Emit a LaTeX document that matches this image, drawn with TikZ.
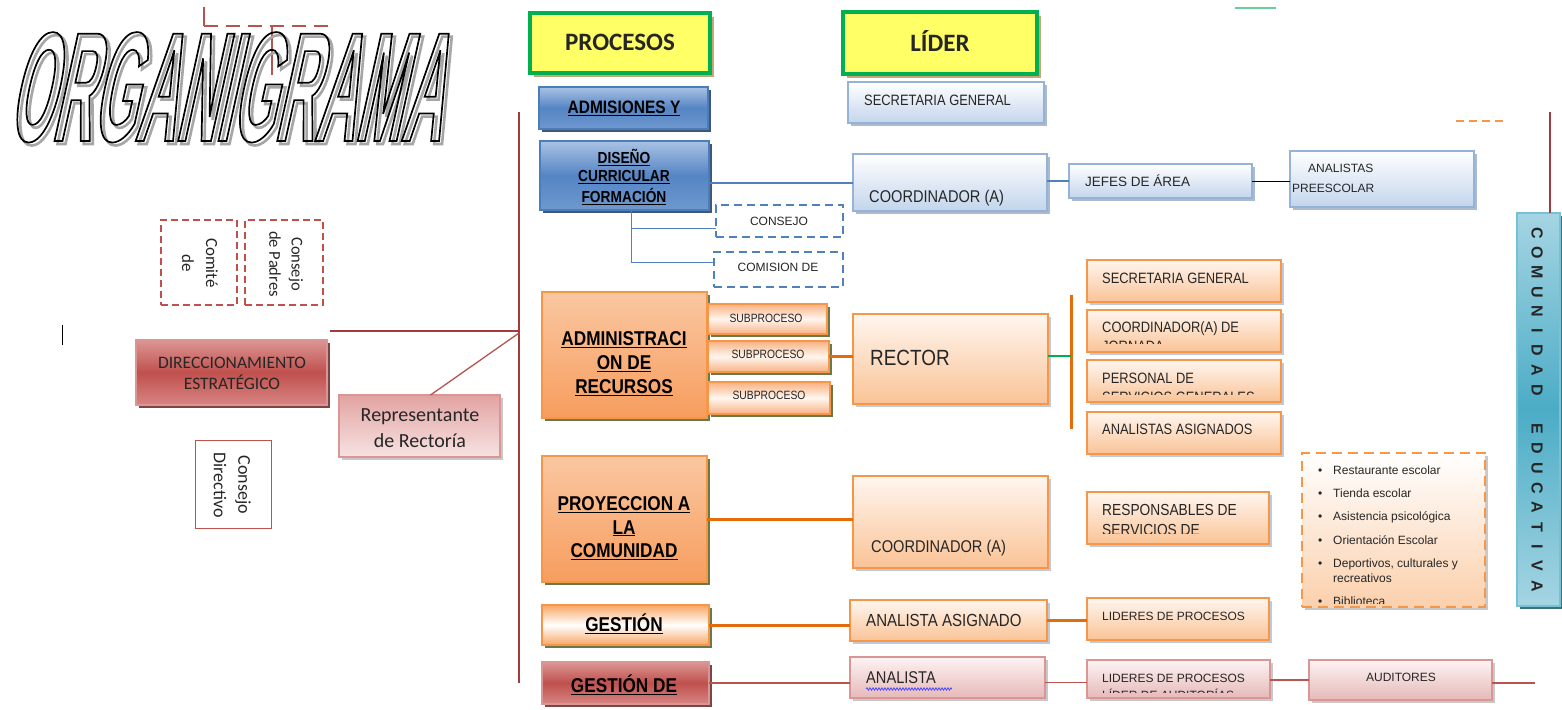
\documentclass[tikz,border=0pt]{standalone}
\usepackage{fontspec}
\setmainfont{Liberation Sans}
\newfontfamily\narfont[FakeStretch=0.86]{Liberation Sans}
\newfontfamily\calfont{Carlito}
\newfontfamily\titlefont[FakeStretch=0.357,FakeSlant=0.22]{Liberation Sans}
\usetikzlibrary{shadows,decorations.pathmorphing}

\definecolor{hdrY}{HTML}{FFFF66}
\definecolor{hdrG}{HTML}{00B050}
\definecolor{hdrS}{HTML}{C49A6C}
\definecolor{pbD}{HTML}{4A7EBB}
\definecolor{pbT}{HTML}{A9C2E4}
\definecolor{pbM}{HTML}{5585C4}
\definecolor{pbB}{HTML}{6E98CF}
\definecolor{pbS}{HTML}{1F3A60}
\definecolor{lbD}{HTML}{95B3D7}
\definecolor{lbB}{HTML}{C3D5EC}
\definecolor{lbS}{HTML}{9EAFC5}
\definecolor{orD}{HTML}{F79646}
\definecolor{orT}{HTML}{FAC7A1}
\definecolor{orB}{HTML}{F79D5E}
\definecolor{orS}{HTML}{4F6228}
\definecolor{orW}{HTML}{F8A766}
\definecolor{loT}{HTML}{FFF6EF}
\definecolor{loB}{HTML}{FAC396}
\definecolor{loS}{HTML}{B3C0D3}
\definecolor{soE}{HTML}{F8B282}
\definecolor{rdD}{HTML}{D99694}
\definecolor{rdT}{HTML}{DB9694}
\definecolor{rdM}{HTML}{C0504D}
\definecolor{rdB}{HTML}{D78583}
\definecolor{rdS}{HTML}{632523}
\definecolor{pkT}{HTML}{FDF3F3}
\definecolor{pkB}{HTML}{E6B9B8}
\definecolor{pkS}{HTML}{BFBFBF}
\definecolor{rpT}{HTML}{E2A3A2}
\definecolor{rpB}{HTML}{F6E3E2}
\definecolor{tlD}{HTML}{78C0D4}
\definecolor{tlT}{HTML}{A5D5E3}
\definecolor{tlM}{HTML}{4BACC6}
\definecolor{tlS}{HTML}{205867}
\definecolor{lnR}{HTML}{A23B3B}
\definecolor{lnRt}{HTML}{B85450}
\definecolor{lnO}{HTML}{E46C0A}
\definecolor{lnB}{HTML}{4F81BD}
\definecolor{lnG}{HTML}{00B050}
\definecolor{dkR}{HTML}{C0504D}
\definecolor{txt}{HTML}{262626}
\definecolor{lsB}{HTML}{FBD0AC}

\newcommand\bx[6]{\node[box,#1,minimum width={(#5-#3)*1pt},minimum height={(#6-#4)*1pt}] (#2) at ({(#3+#5)/2},{(#4+#6)/2}) {};}
% left text: name, font, size, x, cap-center y, text
\newcommand\ltxt[6]{\node[anchor=base west,inner sep=0pt,text=txt,font={#2\fontsize{#3}{#3}\selectfont}] (#1) at (#4,{#5+0.358*#3}) {#6};}
\newcommand\ctxt[6]{\node[anchor=base,inner sep=0pt,text=txt,font={#2\fontsize{#3}{#3}\selectfont}] (#1) at (#4,{#5+0.358*#3}) {#6};}
\newcommand\ptxt[4]{\node[anchor=base,inner sep=0pt,text=black,font={\narfont\bfseries\fontsize{#2}{#2}\selectfont}] (#1) at (624,{#3+0.358*#2}) {\underline{#4}};}
\newcommand\outlined[2]{\special{pdf:literal direct 1 Tr #1 w}#2\special{pdf:literal direct 0 Tr}}

\tikzset{
  box/.style={inner sep=0pt, outer sep=0pt, line width=1.1pt},
  shad/.style={drop shadow={shadow xshift=3pt, shadow yshift=-3pt, fill=#1, opacity=0.85}},
  hdr/.style={fill=hdrY, draw=hdrG, line width=4.5pt, drop shadow={shadow xshift=4pt, shadow yshift=-4pt, fill=hdrS, opacity=0.9}},
  procB/.style={draw=pbD, top color=pbT, bottom color=pbB, middle color=pbM, shad=pbS},
  ldrB/.style={draw=lbD, top color=white, bottom color=lbB, shad=lbS},
  procO/.style={draw=orD, top color=orT, bottom color=orB, shad=orS},
  procOw/.style={draw=orD, top color=orW, bottom color=orW, middle color=white, shad=orS},
  ldrO/.style={draw=orD, top color=loT, bottom color=loB, shad=loS},
  subO/.style={draw=orD, top color=soE, bottom color=soE, middle color=loT, shad=orS},
  procR/.style={draw=rdD, top color=rdT, bottom color=rdB, middle color=rdM, shad=rdS},
  ldrR/.style={draw=rdD, top color=pkT, bottom color=pkB, shad=pkS},
  repR/.style={draw=rdD, top color=rpT, bottom color=rpB, shad=pkS},
  tealbox/.style={draw=tlD, top color=tlT, bottom color=tlT, middle color=tlM, shad=tlS},
  dashR/.style={draw=dkR, fill=white, line width=1.3pt, dash pattern=on 7pt off 4pt},
  dashB/.style={draw=lnB, fill=white, line width=1.5pt, dash pattern=on 8pt off 5pt},
  listbox/.style={draw=orD, line width=1.5pt, dash pattern=on 10pt off 6pt, top color=white, bottom color=lsB, shad=pkS},
  plainR/.style={draw=dkR, fill=white, line width=1pt},
  mainred/.style={draw=lnR, line width=2pt},
  thinred/.style={draw=lnRt, line width=1.6pt},
  orline/.style={draw=lnO, line width=3pt},
  blline/.style={draw=lnB, line width=2pt},
  blthin/.style={draw=lnB, line width=1pt},
  rottxt/.style={rotate=-90, inner sep=0pt, text=txt},
  titlestyle/.style={inner sep=0pt, anchor=base, font={\titlefont\bfseries\fontsize{156}{156}\selectfont}},
}

\begin{document}
\begin{tikzpicture}[x=1pt,y=-1pt]
\fill[white] (0,0) rectangle (1562,709);
\useasboundingbox (0,0) rectangle (1562,709);

% small decorative marks
\coordinate (la) at (204,7); \coordinate (lb) at (204,26); \coordinate (lc) at (330,26);
\coordinate (ld) at (272,26); \coordinate (le) at (272,75);
\draw[thinred] (la) -- (lb);
\draw[thinred, dash pattern=on 14pt off 8pt] (lb) -- (lc);
\draw[thinred] (ld) -- (le);
\coordinate (ga) at (1235,8); \coordinate (gb) at (1276,8);
\draw[draw=lnG!60, line width=2pt] (ga) -- (gb);
\coordinate (oa) at (1456,121); \coordinate (ob) at (1505,121);
\draw[draw=orD, line width=1.5pt, dash pattern=on 8pt off 5pt] (oa) -- (ob);
\coordinate (cur1) at (62,325); \coordinate (cur2) at (62,345);
\draw[black, line width=1pt] (cur1) -- (cur2);

% title (outlined letters with soft shadow)
\node[titlestyle, text=black!35] (titleshadow) at (227,144) {\outlined{2.6}{ORGANIGRAMA}};
\node[titlestyle, text=black] (title) at (224,141) {\outlined{1.7}{ORGANIGRAMA}};

% main vertical and left links
\coordinate (vtop) at (519,112); \coordinate (vbot) at (519,683);
\coordinate (vj) at (519,333); \coordinate (hl) at (330,331);
\draw[mainred] (vtop) -- (vbot);
\draw[mainred] (hl) -- (hl -| vtop);

% headers
\bx{hdr}{proc}{530}{13}{710}{73}
\bx{hdr}{lider}{843}{12}{1037}{74}
\ctxt{procT}{\calfont\bfseries}{25}{620}{42}{PROCESOS}
\ctxt{liderT}{\calfont\bfseries}{25}{940}{43}{LÍDER}

% left side
\bx{dashR}{comite}{161}{220}{237}{305}
\node[rottxt, font=\calfont\fontsize{17}{17}\selectfont] (comiteA) at (212,263) {Comité};
\node[rottxt, font=\calfont\fontsize{17}{17}\selectfont] (comiteB) at (188,263) {de};
\bx{dashR}{padres}{245}{220}{323}{305}
\node[rottxt, font=\calfont\fontsize{16.5}{16.5}\selectfont] (padresA) at (296,264) {Consejo};
\node[rottxt, font=\calfont\fontsize{16.5}{16.5}\selectfont] (padresB) at (275,264) {de Padres};
\bx{procR}{dir}{136}{340}{327}{405}
\ctxt{dirA}{\calfont}{17.5}{232}{362}{DIRECCIONAMIENTO}
\ctxt{dirB}{\calfont}{17.5}{232}{383}{ESTRATÉGICO}
\bx{repR}{rep}{339}{395}{500}{457}
\draw[thinred, line width=1.3pt] ([xshift=11pt]rep.north) -- (vj);
\ctxt{repA}{\calfont}{20}{420}{414}{Representante}
\ctxt{repB}{\calfont}{20}{420}{440}{de Rectoría}
\bx{plainR}{cdir}{195}{440}{271}{528}
\node[rottxt, font=\calfont\fontsize{18}{18}\selectfont] (cdirA) at (243,485) {Consejo};
\node[rottxt, font=\calfont\fontsize{18}{18}\selectfont] (cdirB) at (220,485) {Directivo};

% blue section
\bx{procB}{adm}{539}{87}{708}{129}
\ptxt{admT}{18}{107}{ADMISIONES Y}
\bx{ldrB}{sg}{848}{82}{1044}{123}
\ltxt{sgT}{\narfont}{15}{864}{100}{SECRETARIA GENERAL}

\bx{procB}{dis}{540}{141}{709}{210}
\ptxt{disA}{16}{158}{DISEÑO}
\ptxt{disB}{16}{176}{CURRICULAR}
\begin{scope}
  \clip (540,141) rectangle (709,204);
  \ptxt{disC}{16}{197}{FORMACIÓN}
\end{scope}

\bx{ldrB}{cb}{853}{154}{1047}{211}
\ltxt{cbT}{\narfont}{17}{869}{196}{COORDINADOR (A)}
\bx{ldrB}{jef}{1069}{164}{1252}{198}
\begin{scope}
  \clip (1069,164) rectangle (1252,185.6);
  \ltxt{jefT}{}{13.5}{1085}{182}{JEFES DE ÁREA}
\end{scope}
\bx{ldrB}{anp}{1290}{151}{1474}{207}
\ltxt{anpA}{}{12}{1308}{168}{ANALISTAS}
\ltxt{anpB}{}{12}{1292}{188}{PREESCOLAR}
\draw[blline] (cb.west -| dis.east) -- (cb.west);
\draw[blline, line width=1.5pt] (jef.west -| cb.east) -- (jef.west);
\draw[black, line width=1pt] (jef.east) -- (jef.east -| anp.west);

\bx{dashB}{cons}{716}{205}{843}{237}
\ctxt{consT}{}{12}{779}{221}{CONSEJO}
\bx{dashB}{com}{714}{252}{843}{287}
\ctxt{comT}{}{12}{778}{267}{COMISION DE}
\coordinate (brt) at (631,210);
\draw[blthin] (brt) |- ([yshift=-7pt]cons.west);
\draw[blthin] (brt) |- ([yshift=7.5pt]com.west);

% orange: administracion
\bx{procO}{admr}{542}{292}{707}{418}
\ptxt{admrA}{20}{338}{ADMINISTRACI}
\ptxt{admrB}{20}{362}{ON DE}
\ptxt{admrC}{20}{386}{RECURSOS}
\bx{subO}{sub1}{708}{304}{827}{334}
\bx{subO}{sub2}{708}{341}{829}{372}
\bx{subO}{sub3}{708}{382}{830}{414}
\ctxt{sub1T}{\narfont}{12}{766}{318}{SUBPROCESO}
\ctxt{sub2T}{\narfont}{12}{768}{354}{SUBPROCESO}
\ctxt{sub3T}{\narfont}{12}{769}{395}{SUBPROCESO}
\bx{ldrO}{rector}{853}{314}{1048}{404}
\ltxt{rectorT}{\narfont}{22}{870}{358}{RECTOR}
\draw[orline] (sub2.east) -- (sub2.east -| rector.west);
\coordinate (bart) at (1071,295); \coordinate (barb) at (1071,429);
\draw[orline] (bart) -- (barb);
\draw[draw=lnG, line width=1.2pt] ([yshift=3pt]rector.east) -- ([yshift=3pt]rector.east -| bart);

\bx{ldrO}{r1}{1087}{260}{1281}{302}
\ltxt{r1T}{\narfont}{15}{1102}{278}{SECRETARIA GENERAL}
\bx{ldrO}{r2}{1087}{310}{1281}{352}
\ltxt{r2A}{\narfont}{15}{1102}{327}{COORDINADOR(A) DE}
\begin{scope}
  \clip (1087,310) rectangle (1281,343);
  \ltxt{r2B}{\narfont}{15}{1102}{346}{JORNADA}
\end{scope}
\bx{ldrO}{r3}{1087}{360}{1281}{402}
\ltxt{r3A}{\narfont}{15}{1102}{378}{PERSONAL DE}
\begin{scope}
  \clip (1087,360) rectangle (1281,394);
  \ltxt{r3B}{\narfont}{15}{1102}{397}{SERVICIOS GENERALES}
\end{scope}
\bx{ldrO}{r4}{1087}{412}{1281}{454}
\ltxt{r4T}{\narfont}{15}{1102}{429}{ANALISTAS ASIGNADOS}

% orange: proyeccion
\bx{procO}{proy}{542}{456}{707}{582}
\ptxt{proyA}{20}{503}{PROYECCION A}
\ptxt{proyB}{20}{527}{LA}
\ptxt{proyC}{20}{550}{COMUNIDAD}
\bx{ldrO}{co}{853}{476}{1048}{568}
\ltxt{coT}{\narfont}{17}{871}{546}{COORDINADOR (A)}
\draw[orline] (proy.east) -- (proy.east -| co.west);
\bx{ldrO}{resp}{1087}{492}{1269}{544}
\ltxt{respA}{\narfont}{16}{1102}{510}{RESPONSABLES DE}
\begin{scope}
  \clip (1087,492) rectangle (1269,533);
  \ltxt{respB}{\narfont}{16}{1102}{530}{SERVICIOS DE}
\end{scope}

% list box
\bx{listbox}{lst}{1302}{453}{1485}{607}
\begin{scope}
  \clip (1302,453) rectangle (1485,603);
  \foreach \t/\yy/\k in {Restaurante escolar/470/1, Tienda escolar/493/2, Asistencia psicológica/516/3, Orientación Escolar/540/4, {Deportivos, culturales y}/563/5, Biblioteca/601/7}{
    \ltxt{bul\k}{}{12}{1318}{\yy}{•}
    \ltxt{itm\k}{}{12}{1333}{\yy}{\t}
  }
  \ltxt{itm6}{}{12}{1333}{578}{recreativos}
\end{scope}

% gestion
\bx{procOw}{gest}{542}{605}{709}{645}
\ptxt{gestT}{20}{624}{GESTIÓN}
\bx{ldrO}{aa}{850}{600}{1047}{641}
\ltxt{aaT}{\narfont}{17.5}{866}{620}{ANALISTA ASIGNADO}
\bx{ldrO}{lp}{1087}{598}{1269}{640}
\ltxt{lpT}{}{12}{1102}{616}{LIDERES DE PROCESOS}
\draw[orline] (gest.east) -- (gest.east -| aa.west);
\draw[orline] (aa.east) -- (aa.east -| lp.west);

% gestion de (red)
\bx{procR}{gde}{542}{662}{709}{704}
\ptxt{gdeT}{20}{685}{GESTIÓN DE}
\bx{ldrR}{an}{850}{657}{1045}{698}
\ltxt{anT}{\narfont}{17}{866}{677}{ANALISTA}
\coordinate (wv1) at (866,689); \coordinate (wv2) at (952,689);
\draw[blue!70, line width=0.8pt, decorate, decoration={snake, amplitude=1.2pt, segment length=3pt}] (wv1) -- (wv2);
\bx{ldrR}{lpa}{1087}{660}{1270}{698}
\ltxt{lpaA}{}{12}{1102}{678}{LIDERES DE PROCESOS}
\begin{scope}
  \clip (1087,660) rectangle (1270,692);
  \ltxt{lpaB}{}{12}{1102}{695}{LÍDER DE AUDITORÍAS}
\end{scope}
\bx{ldrR}{aud}{1309}{660}{1492}{700}
\ctxt{audT}{}{12}{1401}{677}{AUDITORES}
\coordinate (audend) at (1535,683);
\draw[thinred] (gde.east) -- (gde.east -| an.west);
\draw[thinred] ([yshift=-5pt]an.east) -- ([yshift=-5pt]an.east -| lpa.west);
\draw[thinred] (aud.west -| lpa.east) -- (aud.west);
\draw[thinred] (aud.east |- audend) -- (audend);

% comunidad educativa
\coordinate (ctop) at (1550,112);
\bx{tealbox}{ce}{1517}{213}{1560}{606}
\draw[mainred] (ctop) -- (ctop |- ce.north);
\foreach \ch/\k in {C/0,O/1,M/2,U/3,N/4,I/5,D/6,A/7,D/8,E/10,D/11,U/12,C/13,A/14,T/15,I/16,V/17,A/18}{
  \node[rottxt, text=black!85, font=\bfseries\fontsize{16}{16}\selectfont] (ce\k) at (1537,{233+\k*19.6}) {\ch};
}
\end{tikzpicture}
\end{document}
